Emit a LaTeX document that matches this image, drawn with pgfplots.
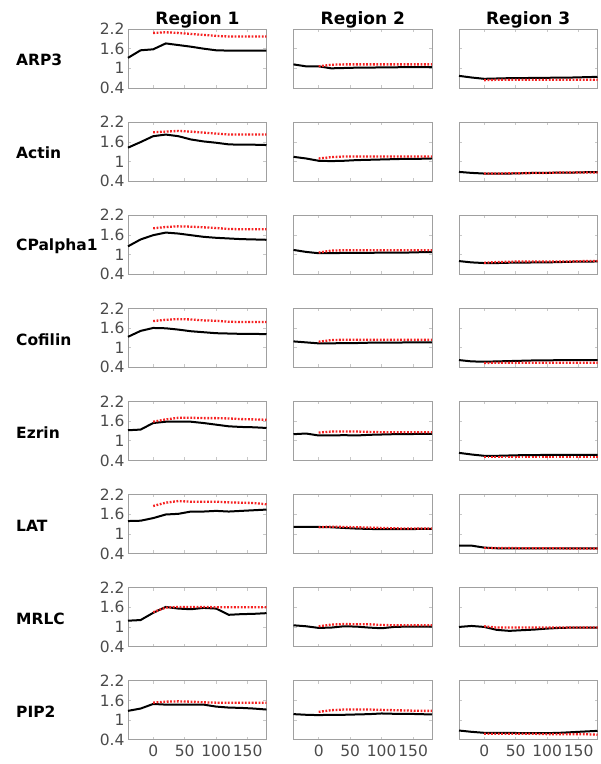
\documentclass[border=0pt]{standalone}
\usepackage{pgfplots}
\pgfplotsset{compat=1.18}
\usepackage{fontspec}
\setmainfont{DejaVu Sans}

\definecolor{framegray}{RGB}{160,160,160}
\definecolor{tickgray}{RGB}{200,200,200}
\definecolor{labgray}{RGB}{75,75,75}
\definecolor{dotred}{RGB}{245,35,35}

\pgfplotsset{
  panel/.style={
    scale only axis, width=138.5pt, height=59pt,
    anchor=south west,
    xmin=-40, xmax=180, ymin=0.4, ymax=2.2,
    xtick={0,50,100,150}, ytick={0.4,1,1.6,2.2},
    tick align=inside, major tick length=3pt,
    axis line style={draw=framegray, line width=0.8pt},
    tick style={draw=tickgray, line width=0.5pt},
    xticklabels={}, yticklabels={},
    ticklabel style={font=\fontsize{15.5}{16}\selectfont, text=labgray},
    /pgf/number format/assume math mode=true,
    clip=false,
  },
  ylab/.style={yticklabels={0.4,1,1.6,2.2}},
  xlab/.style={xticklabels={0,50,100,150}, xticklabel style={yshift=-2pt}},
  blk/.style={black, line width=2pt, no markers},
  rd/.style={dotred, line width=2.3pt, dash pattern=on 1.8pt off 1.6pt, no markers},
}

% #1 x of axis, #2 y of axis bottom, #3 extra options, #4 black line, #5 red line
\newcommand{\panel}[5]{%
  \begin{axis}[panel, at={(#1,#2)}, #3]
    \addplot[blk] coordinates {#4};
    \addplot[rd] coordinates {#5};
  \end{axis}}

\begin{document}
\begin{tikzpicture}
\useasboundingbox (0,0) rectangle (601pt,764pt);

% column titles
\node[font=\fontsize{17}{18}\selectfont\bfseries] at (197.5pt,744pt) {Region 1};
\node[font=\fontsize{17}{18}\selectfont\bfseries] at (362.8pt,744pt) {Region 2};
\node[font=\fontsize{17}{18}\selectfont\bfseries] at (528.2pt,744pt) {Region 3};

% row labels
\foreach \lab [count=\i from 0] in {ARP3,Actin,CPalpha1,Cofilin,Ezrin,LAT,MRLC,PIP2}
  \node[anchor=west, font=\fontsize{15.5}{16}\selectfont\bfseries, inner sep=0pt]
    at (16pt, {704pt-93.1pt*\i}) {\lab};

% ---- ARP3
\panel{128pt}{676pt}{ylab}
 {(-40,1.32)(-20,1.55)(0,1.58)(20,1.76)(40,1.71)(60,1.66)(80,1.60)(100,1.55)(120,1.54)(140,1.54)(160,1.54)(180,1.54)}
 {(0,2.08)(20,2.10)(40,2.08)(60,2.05)(80,2.02)(100,1.99)(120,1.97)(140,1.97)(160,1.97)(180,1.97)}
\panel{293.5pt}{676pt}{}
 {(-40,1.12)(-20,1.06)(0,1.06)(20,1.00)(40,1.01)(60,1.02)(80,1.02)(100,1.03)(120,1.03)(140,1.04)(160,1.04)(180,1.04)}
 {(0,1.06)(20,1.11)(40,1.12)(60,1.12)(80,1.12)(100,1.12)(120,1.12)(140,1.12)(160,1.12)(180,1.12)}
\panel{459pt}{676pt}{}
 {(-40,0.77)(-20,0.72)(0,0.68)(20,0.69)(40,0.70)(60,0.70)(80,0.71)(100,0.71)(120,0.72)(140,0.72)(160,0.73)(180,0.74)}
 {(0,0.64)(20,0.65)(40,0.65)(60,0.65)(80,0.65)(100,0.65)(120,0.65)(140,0.65)(160,0.65)(180,0.65)}

% ---- Actin
\panel{128pt}{582.9pt}{ylab}
 {(-40,1.42)(-20,1.59)(0,1.77)(20,1.82)(40,1.77)(60,1.67)(80,1.61)(100,1.57)(120,1.52)(140,1.51)(160,1.51)(180,1.50)}
 {(0,1.89)(20,1.91)(40,1.93)(60,1.91)(80,1.88)(100,1.85)(120,1.82)(140,1.82)(160,1.82)(180,1.82)}
\panel{293.5pt}{582.9pt}{}
 {(-40,1.14)(-20,1.09)(0,1.02)(20,1.01)(40,1.02)(60,1.04)(80,1.05)(100,1.06)(120,1.07)(140,1.08)(160,1.08)(180,1.09)}
 {(0,1.09)(20,1.13)(40,1.15)(60,1.15)(80,1.15)(100,1.15)(120,1.15)(140,1.15)(160,1.15)(180,1.15)}
\panel{459pt}{582.9pt}{}
 {(-40,0.68)(-20,0.65)(0,0.63)(20,0.63)(40,0.63)(60,0.64)(80,0.65)(100,0.65)(120,0.66)(140,0.66)(160,0.67)(180,0.67)}
 {(0,0.63)(20,0.63)(40,0.64)(60,0.64)(80,0.65)(100,0.65)(120,0.66)(140,0.66)(160,0.66)(180,0.66)}

% ---- CPalpha1
\panel{128pt}{489.8pt}{ylab}
 {(-40,1.25)(-20,1.46)(0,1.59)(20,1.67)(40,1.64)(60,1.59)(80,1.54)(100,1.51)(120,1.49)(140,1.47)(160,1.46)(180,1.45)}
 {(0,1.80)(20,1.84)(40,1.86)(60,1.85)(80,1.83)(100,1.81)(120,1.78)(140,1.77)(160,1.77)(180,1.77)}
\panel{293.5pt}{489.8pt}{}
 {(-40,1.14)(-20,1.08)(0,1.04)(20,1.04)(40,1.05)(60,1.05)(80,1.05)(100,1.06)(120,1.06)(140,1.06)(160,1.07)(180,1.07)}
 {(0,1.06)(20,1.12)(40,1.13)(60,1.13)(80,1.13)(100,1.13)(120,1.13)(140,1.13)(160,1.13)(180,1.13)}
\panel{459pt}{489.8pt}{}
 {(-40,0.80)(-20,0.76)(0,0.74)(20,0.74)(40,0.75)(60,0.75)(80,0.76)(100,0.76)(120,0.77)(140,0.78)(160,0.78)(180,0.79)}
 {(0,0.75)(20,0.77)(40,0.78)(60,0.79)(80,0.79)(100,0.79)(120,0.79)(140,0.79)(160,0.80)(180,0.80)}

% ---- Cofilin
\panel{128pt}{396.7pt}{ylab}
 {(-40,1.33)(-20,1.51)(0,1.60)(20,1.59)(40,1.55)(60,1.50)(80,1.47)(100,1.44)(120,1.43)(140,1.42)(160,1.42)(180,1.41)}
 {(0,1.81)(20,1.85)(40,1.87)(60,1.86)(80,1.83)(100,1.82)(120,1.79)(140,1.78)(160,1.78)(180,1.78)}
\panel{293.5pt}{396.7pt}{}
 {(-40,1.19)(-20,1.16)(0,1.13)(20,1.13)(40,1.14)(60,1.14)(80,1.15)(100,1.15)(120,1.15)(140,1.16)(160,1.16)(180,1.16)}
 {(0,1.18)(20,1.23)(40,1.24)(60,1.24)(80,1.24)(100,1.24)(120,1.24)(140,1.24)(160,1.24)(180,1.24)}
\panel{459pt}{396.7pt}{}
 {(-40,0.62)(-20,0.58)(0,0.57)(20,0.58)(40,0.59)(60,0.60)(80,0.61)(100,0.61)(120,0.62)(140,0.62)(160,0.62)(180,0.62)}
 {(0,0.53)(20,0.54)(40,0.54)(60,0.54)(80,0.54)(100,0.54)(120,0.54)(140,0.54)(160,0.54)(180,0.54)}

% ---- Ezrin
\panel{128pt}{303.6pt}{ylab}
 {(-40,1.32)(-20,1.34)(0,1.54)(20,1.58)(40,1.58)(60,1.58)(80,1.54)(100,1.49)(120,1.44)(140,1.42)(160,1.41)(180,1.39)}
 {(0,1.58)(20,1.65)(40,1.70)(60,1.70)(80,1.69)(100,1.69)(120,1.68)(140,1.66)(160,1.65)(180,1.64)}
\panel{293.5pt}{303.6pt}{}
 {(-40,1.20)(-20,1.22)(0,1.16)(20,1.16)(40,1.17)(60,1.16)(80,1.18)(100,1.19)(120,1.20)(140,1.20)(160,1.21)(180,1.21)}
 {(0,1.25)(20,1.28)(40,1.28)(60,1.28)(80,1.27)(100,1.26)(120,1.26)(140,1.26)(160,1.26)(180,1.26)}
\panel{459pt}{303.6pt}{}
 {(-40,0.63)(-20,0.58)(0,0.54)(20,0.54)(40,0.55)(60,0.56)(80,0.56)(100,0.57)(120,0.57)(140,0.57)(160,0.57)(180,0.57)}
 {(0,0.50)(20,0.50)(40,0.50)(60,0.50)(80,0.50)(100,0.50)(120,0.50)(140,0.50)(160,0.50)(180,0.50)}

% ---- LAT
\panel{128pt}{210.5pt}{ylab}
 {(-40,1.39)(-20,1.40)(0,1.48)(20,1.59)(40,1.61)(60,1.68)(80,1.68)(100,1.70)(120,1.68)(140,1.70)(160,1.72)(180,1.74)}
 {(0,1.85)(20,1.95)(40,2.00)(60,1.98)(80,1.98)(100,1.98)(120,1.96)(140,1.95)(160,1.94)(180,1.90)}
\panel{293.5pt}{210.5pt}{}
 {(-40,1.21)(-20,1.21)(0,1.21)(20,1.20)(40,1.18)(60,1.16)(80,1.15)(100,1.14)(120,1.14)(140,1.14)(160,1.15)(180,1.15)}
 {(0,1.20)(20,1.22)(40,1.21)(60,1.20)(80,1.19)(100,1.18)(120,1.17)(140,1.16)(160,1.16)(180,1.16)}
\panel{459pt}{210.5pt}{}
 {(-40,0.64)(-20,0.64)(0,0.58)(20,0.56)(40,0.56)(60,0.56)(80,0.56)(100,0.56)(120,0.56)(140,0.56)(160,0.56)(180,0.56)}
 {(0,0.57)(20,0.57)(40,0.57)(60,0.56)(80,0.56)(100,0.56)(120,0.56)(140,0.55)(160,0.55)(180,0.55)}

% ---- MRLC
\panel{128pt}{117.4pt}{ylab}
 {(-40,1.19)(-20,1.21)(0,1.43)(20,1.61)(40,1.56)(60,1.54)(80,1.58)(100,1.56)(120,1.37)(140,1.39)(160,1.40)(180,1.42)}
 {(0,1.45)(20,1.59)(40,1.61)(60,1.61)(80,1.61)(100,1.60)(120,1.60)(140,1.60)(160,1.60)(180,1.60)}
\panel{293.5pt}{117.4pt}{}
 {(-40,1.05)(-20,1.02)(0,0.97)(20,0.98)(40,1.02)(60,1.01)(80,0.98)(100,0.96)(120,1.00)(140,1.01)(160,1.01)(180,1.01)}
 {(0,1.02)(20,1.07)(40,1.09)(60,1.08)(80,1.08)(100,1.06)(120,1.05)(140,1.05)(160,1.05)(180,1.05)}
\panel{459pt}{117.4pt}{}
 {(-40,1.00)(-20,1.03)(0,1.00)(20,0.91)(40,0.88)(60,0.90)(80,0.92)(100,0.95)(120,0.97)(140,0.98)(160,0.98)(180,0.98)}
 {(0,1.02)(20,0.98)(40,0.98)(60,0.98)(80,0.98)(100,0.98)(120,0.98)(140,0.98)(160,0.98)(180,0.98)}

% ---- PIP2
\panel{128pt}{24.3pt}{ylab, xlab}
 {(-40,1.28)(-20,1.35)(0,1.49)(20,1.47)(40,1.47)(60,1.47)(80,1.47)(100,1.41)(120,1.38)(140,1.37)(160,1.35)(180,1.32)}
 {(0,1.53)(20,1.56)(40,1.57)(60,1.56)(80,1.54)(100,1.53)(120,1.53)(140,1.53)(160,1.53)(180,1.53)}
\panel{293.5pt}{24.3pt}{xlab}
 {(-40,1.18)(-20,1.16)(0,1.15)(20,1.16)(40,1.16)(60,1.17)(80,1.18)(100,1.20)(120,1.19)(140,1.19)(160,1.18)(180,1.17)}
 {(0,1.25)(20,1.30)(40,1.32)(60,1.32)(80,1.32)(100,1.31)(120,1.30)(140,1.29)(160,1.28)(180,1.28)}
\panel{459pt}{24.3pt}{xlab}
 {(-40,0.68)(-20,0.64)(0,0.61)(20,0.61)(40,0.61)(60,0.60)(80,0.60)(100,0.60)(120,0.61)(140,0.63)(160,0.65)(180,0.67)}
 {(0,0.58)(20,0.58)(40,0.58)(60,0.58)(80,0.58)(100,0.57)(120,0.57)(140,0.57)(160,0.57)(180,0.55)}

\end{tikzpicture}
\end{document}
